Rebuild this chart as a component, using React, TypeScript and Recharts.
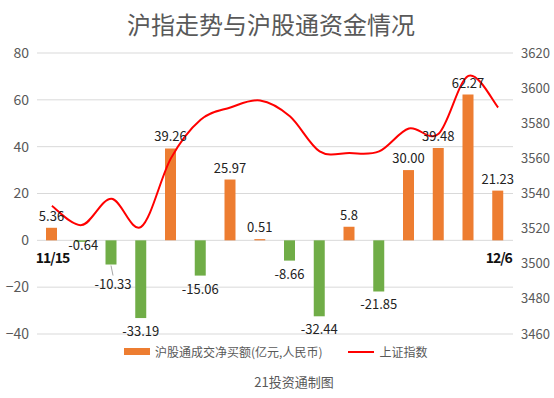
import React from 'react';
import {
  Bar,
  CartesianGrid,
  Cell,
  ComposedChart,
  LabelList,
  Line,
  XAxis,
  YAxis,
} from 'recharts';

const dates = [
  '11/15', '11/16', '11/17', '11/18', '11/19', '11/22', '11/23', '11/24',
  '11/25', '11/26', '11/29', '11/30', '12/1', '12/2', '12/3', '12/6',
];
const netBuy = [
  5.36, -0.64, -10.33, -33.19, 39.26, -15.06, 25.97, 0.51,
  -8.66, -32.44, 5.8, -21.85, 30.0, 39.48, 62.27, 21.23,
];
const netBuyLabels = [
  '5.36', '-0.64', '-10.33', '-33.19', '39.26', '-15.06', '25.97', '0.51',
  '-8.66', '-32.44', '5.8', '-21.85', '30.00', '39.48', '62.27', '21.23',
];
const shIndex = [
  3533, 3522, 3537, 3521, 3560, 3582, 3589, 3593,
  3584, 3564, 3563, 3564, 3577, 3574, 3607, 3589,
];
const leftTicks = [-40, -20, 0, 20, 40, 60, 80];
const rightTicks = [3460, 3480, 3500, 3520, 3540, 3560, 3580, 3600, 3620];

const data = dates.map((d, i) => ({
  date: d,
  flow: netBuy[i],
  flowLabel: netBuyLabels[i],
  index: shIndex[i],
}));

const FONT = '"Noto Sans CJK SC", "Noto Sans", sans-serif';
const ORANGE = '#ED7D31';
const GREEN = '#70AD47';
const RED = '#FF0000';

// excel-style smoothed line (catmull-rom through every point)
const smoothCurve = (context: any) => {
  let pts: number[][] = [];
  return {
    areaStart() {},
    areaEnd() {},
    lineStart() {
      pts = [];
    },
    point(x: number, y: number) {
      pts.push([+x, +y]);
    },
    lineEnd() {
      if (!pts.length) return;
      context.moveTo(pts[0][0], pts[0][1]);
      for (let i = 0; i < pts.length - 1; i++) {
        const p0 = pts[i - 1] || pts[i];
        const p1 = pts[i];
        const p2 = pts[i + 1];
        const p3 = pts[i + 2] || p2;
        context.bezierCurveTo(
          p1[0] + (p2[0] - p0[0]) / 6,
          p1[1] + (p2[1] - p0[1]) / 6,
          p2[0] - (p3[0] - p1[0]) / 6,
          p2[1] - (p3[1] - p1[1]) / 6,
          p2[0],
          p2[1],
        );
      }
    },
  };
};

const ValueLabel = (props: any) => {
  const { x, y, width, height, value, index } = props;
  const top = Math.min(y, y + height);
  const bottom = Math.max(y, y + height);
  const neg = netBuy[index] < 0;
  const cx = x + width / 2;
  if (!neg) {
    return (
      <text x={cx} y={top - 7} textAnchor="middle" fontSize={13} fontFamily={FONT} fill="#222">
        {value}
      </text>
    );
  }
  // tiny bar: label sits right under the zero line; one label pulled down with a leader
  const tiny = bottom - top < 3;
  const pulled = index === 2;
  const ty = tiny ? bottom + 8 : pulled ? bottom + 24 : bottom + 18;
  const tx = tiny ? cx + 2 : pulled ? cx + 2 : cx;
  return (
    <g>
      {pulled && (
        <line x1={cx} y1={bottom + 1} x2={cx + 2} y2={bottom + 11} stroke="#a6a6a6" strokeWidth={1} />
      )}
      <text x={tx} y={ty} textAnchor="middle" fontSize={13} fontFamily={FONT} fill="#222">
        {value}
      </text>
    </g>
  );
};

const DateLabel = (props: any) => {
  const { x, y, width, height, value, index } = props;
  if (index !== 0 && index !== dates.length - 1) return null;
  const zero = Math.max(y, y + height);
  return (
    <text
      x={x + width / 2 + 1}
      y={zero + 23}
      textAnchor="middle"
      fontSize={14}
      fontWeight="bold"
      fontFamily={FONT}
      fill="#111"
      letterSpacing={-1}
    >
      {value}
    </text>
  );
};

export default function App() {
  return (
    <div
      style={{
        position: 'absolute',
        left: 0,
        top: 0,
        width: 554,
        height: 398,
        background: '#fff',
        fontFamily: FONT,
      }}
    >
      <div
        style={{
          position: 'absolute',
          top: 6,
          width: 554,
          textAlign: 'center',
          fontSize: 24,
          color: '#595959',
          left: -6,
        }}
      >
        沪指走势与沪股通资金情况
      </div>
      <ComposedChart
        width={554}
        height={398}
        data={data}
        margin={{ top: 53, right: 0, left: 0, bottom: 64 }}
      >
        <CartesianGrid yAxisId="left" vertical={false} stroke="#d9d9d9" />
        <XAxis dataKey="date" hide />
        <YAxis
          yAxisId="left"
          domain={[-40, 80]}
          ticks={leftTicks}
          width={37}
          axisLine={false}
          tickLine={false}
          tick={{ fill: '#595959', fontSize: 14, fontFamily: FONT }}
          tickFormatter={(v: number) => (v < 0 ? '\u2212' + Math.abs(v) : String(v))}
        />
        <YAxis
          yAxisId="right"
          orientation="right"
          domain={[3460, 3620]}
          ticks={rightTicks}
          width={41}
          axisLine={false}
          tickLine={false}
          tick={{ fill: '#595959', fontSize: 13, fontFamily: FONT }}
        />
        <Bar yAxisId="left" dataKey="flow" barSize={11} isAnimationActive={false}>
          {data.map((d) => (
            <Cell key={d.date} fill={d.flow < 0 ? GREEN : ORANGE} />
          ))}
          <LabelList dataKey="flowLabel" content={ValueLabel} />
          <LabelList dataKey="date" content={DateLabel} />
        </Bar>
        <Line
          yAxisId="right"
          dataKey="index"
          type={smoothCurve as any}
          stroke={RED}
          strokeWidth={2}
          dot={false}
          activeDot={false}
          isAnimationActive={false}
        />
      </ComposedChart>
      <div
        style={{
          position: 'absolute',
          top: 343,
          left: 124,
          display: 'flex',
          alignItems: 'center',
          fontSize: 12,
          color: '#595959',
        }}
      >
        <span style={{ width: 26, height: 7, background: ORANGE, marginRight: 5 }} />
        <span>沪股通成交净买额(亿元,人民币)</span>
        <span style={{ width: 26, height: 2, background: RED, marginLeft: 26, marginRight: 5 }} />
        <span>上证指数</span>
      </div>
      <div
        style={{
          position: 'absolute',
          top: 372,
          left: 0,
          width: 554,
          textAlign: 'center',
          fontSize: 13,
          color: '#595959',
          paddingLeft: 34,
          boxSizing: 'border-box',
        }}
      >
        21投资通制图
      </div>
    </div>
  );
}
